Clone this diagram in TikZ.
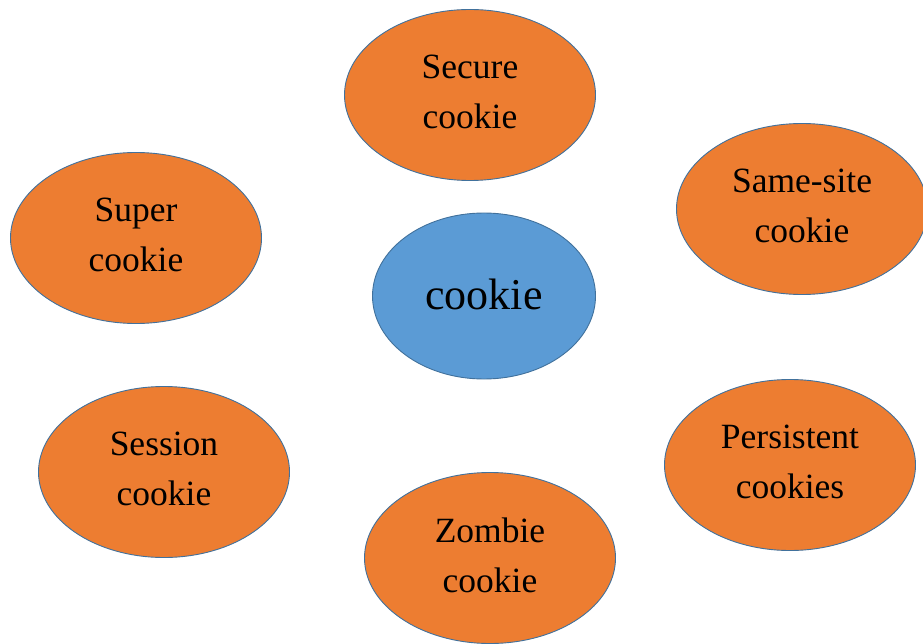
\documentclass[tikz,border=0pt]{standalone}
\usepackage{fontspec}
\setmainfont{Liberation Serif}
\usetikzlibrary{shapes.geometric}
\definecolor{orangefill}{HTML}{ED7D31}
\definecolor{bluefill}{HTML}{5B9BD5}
\definecolor{edgeblue}{HTML}{41719C}
\begin{document}
\begin{tikzpicture}[x=1pt,y=-1pt,
  bubble/.style={ellipse, draw=edgeblue, line width=0.9pt, fill=orangefill,
    minimum width=251pt, minimum height=171pt, inner sep=0pt, align=center,
    text depth=6pt, font=\fontsize{35.5}{50}\selectfont},
  hub/.style={ellipse, draw=edgeblue, line width=0.9pt, fill=bluefill,
    minimum width=223pt, minimum height=166pt, inner sep=0pt, align=center,
    text depth=4pt, font=\fontsize{44}{50}\selectfont}]
\useasboundingbox (0,0) rectangle (923,644);
\clip (0,0) rectangle (923,644);
\node[hub] (center) at (484,296) {cookie};
\node[bubble] (secure) at (470,95) {Secure\\cookie};
\node[bubble] (samesite) at (802,209) {Same-site\\cookie};
\node[bubble] (super) at (136,238) {Super\\cookie};
\node[bubble] (session) at (164,472) {Session\\cookie};
\node[bubble] (persistent) at (790,465) {Persistent\\cookies};
\node[bubble] (zombie) at (490,558) {Zombie\\cookie};
\end{tikzpicture}
\end{document}
